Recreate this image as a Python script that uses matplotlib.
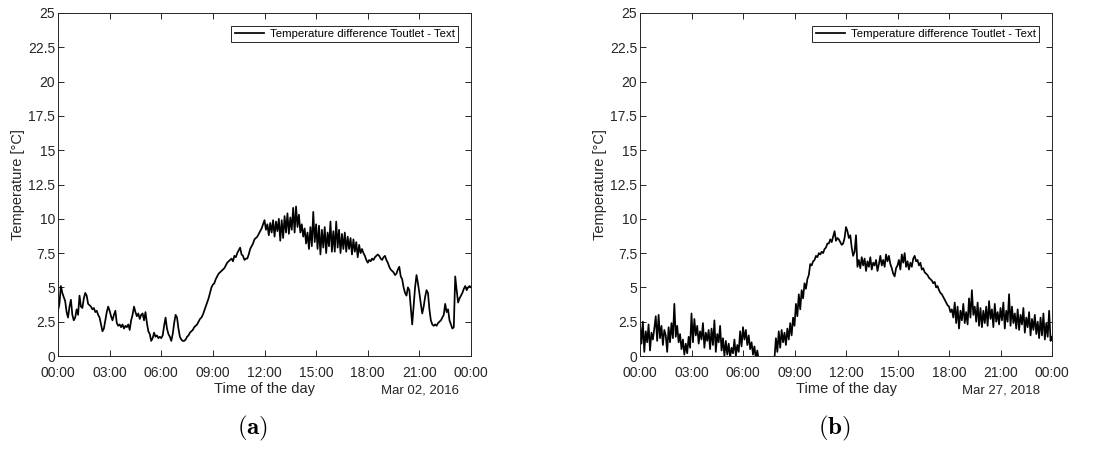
import numpy as np
import matplotlib
matplotlib.use("Agg")
import matplotlib.pyplot as plt

plt.rcParams['font.family'] = ['Liberation Sans', 'DejaVu Sans']
plt.rcParams['mathtext.fontset'] = 'cm'

# 5-minute readings, one row per hour, plus the value at 24:00
temp_a = [
    3.3, 3.8, 5.1, 4.6, 4.3, 4.0, 3.2, 2.8, 3.6, 4.1, 3.0, 2.6,
    2.8, 3.4, 3.0, 4.4, 3.6, 3.5, 4.2, 4.6, 4.4, 3.8, 3.7, 3.6,
    3.4, 3.5, 3.2, 3.3, 3.0, 2.8, 2.3, 1.8, 2.0, 2.6, 3.2, 3.6,
    3.3, 2.9, 2.6, 3.0, 3.3, 2.4, 2.2, 2.3, 2.1, 2.3, 2.0, 2.2,
    2.1, 2.3, 1.9, 2.6, 3.0, 3.6, 3.2, 2.9, 3.1, 2.7, 3.0, 3.1,
    2.6, 3.2, 2.4, 1.8, 1.6, 1.1, 1.3, 1.7, 1.4, 1.5, 1.3, 1.4,
    1.3, 1.5, 2.2, 2.8, 2.0, 1.6, 1.4, 1.1, 1.6, 2.4, 3.0, 2.8,
    2.0, 1.4, 1.2, 1.1, 1.1, 1.2, 1.4, 1.5, 1.7, 1.8, 1.9, 2.1,
    2.2, 2.3, 2.5, 2.7, 2.8, 3.0, 3.3, 3.6, 3.9, 4.2, 4.6, 5.0,
    5.2, 5.3, 5.6, 5.8, 6.0, 6.1, 6.2, 6.3, 6.4, 6.6, 6.8, 6.9,
    7.0, 7.1, 6.9, 7.3, 7.2, 7.5, 7.7, 7.9, 7.4, 7.3, 7.0, 7.1,
    7.1, 7.4, 7.8, 8.0, 8.2, 8.5, 8.6, 8.7, 8.9, 9.1, 9.3, 9.6,
    9.9, 9.2, 9.6, 8.8, 9.7, 9.0, 9.9, 8.7, 9.8, 9.1, 10.0, 8.4,
    9.9, 8.6, 10.2, 9.0, 10.4, 8.9, 10.1, 9.2, 10.8, 9.0, 10.9, 9.4,
    10.3, 9.0, 9.6, 8.7, 9.3, 8.2, 9.0, 7.8, 9.4, 8.0, 10.5, 8.3,
    9.6, 7.8, 9.5, 7.4, 9.2, 7.9, 9.4, 7.5, 9.0, 8.0, 9.8, 7.6,
    9.1, 7.6, 9.8, 7.9, 9.2, 7.5, 8.9, 7.8, 9.0, 7.6, 8.7, 7.8,
    8.6, 7.4, 8.5, 7.6, 8.3, 7.2, 8.1, 7.5, 7.8, 7.5, 7.3, 7.0,
    6.8, 7.0, 6.9, 7.1, 7.0, 7.2, 7.3, 7.4, 7.3, 7.1, 7.0, 7.2,
    7.3, 7.0, 6.8, 6.5, 6.3, 6.2, 6.1, 5.9, 6.0, 6.3, 6.5, 5.8,
    5.6, 5.0, 4.6, 4.4, 5.0, 4.8, 3.5, 2.3, 3.6, 5.0, 5.9, 5.3,
    4.6, 3.8, 3.1, 3.6, 4.3, 4.8, 4.6, 3.4, 2.6, 2.3, 2.2, 2.3,
    2.2, 2.4, 2.5, 2.6, 2.8, 3.0, 3.8, 3.2, 3.4, 2.6, 2.3, 2.0,
    2.1, 5.8, 4.8, 3.9, 4.2, 4.4, 4.6, 4.9, 5.1, 4.8, 5.0, 5.1,
    5.0,
]

temp_b = [
    2.4, 0.9, 2.5, 0.3, 1.8, 1.0, 2.3, 0.4, 1.7, 1.2, 2.0, 2.9,
    1.1, 3.0, 1.3, 2.2, 0.8, 1.9, 1.5, 0.3, 2.1, 1.0, 2.4, 1.3,
    3.8, 1.4, 2.2, 1.0, 1.6, 0.5, 1.2, 0.1, 0.9, 0.2, 1.4, 0.6,
    3.1, 1.0, 2.7, 1.5, 2.2, 0.9, 1.8, 1.2, 2.4, 0.6, 1.7, 1.1,
    1.9, 0.5, 2.0, 0.8, 2.6, 0.3, 1.6, 1.0, 2.2, 0.4, 1.3, 0.0,
    1.1, 0.1, 0.9, -0.1, 0.6, 0.2, 1.2, 0.0, 0.8, 0.3, 1.8, 0.7,
    2.1, 1.2, 1.9, 0.8, 1.5, 0.5, 1.0, 0.1, 0.7, -0.2, 0.4, -0.3,
    -0.5, -0.4, -0.6, -0.5, -0.7, -0.6, -0.5, -0.6, -0.4, -0.5, -0.2, 1.3,
    0.3, 1.8, 0.6, 1.9, 1.0, 1.7, 0.8, 2.0, 1.2, 2.4, 1.5, 2.8,
    2.2, 3.8, 2.9, 4.5, 3.4, 4.8, 4.2, 5.3, 4.9, 5.6, 5.9, 6.7,
    6.6, 6.9, 7.0, 7.3, 7.2, 7.5, 7.4, 7.6, 7.5, 7.8, 7.9, 8.2,
    8.2, 8.5, 8.3, 8.7, 9.1, 8.4, 8.6, 8.5, 8.3, 8.1, 8.2, 8.6,
    9.4, 9.1, 8.6, 8.8, 7.9, 7.3, 7.6, 8.8, 6.5, 7.0, 6.4, 7.2,
    6.6, 7.1, 6.2, 6.9, 6.5, 7.2, 6.3, 6.8, 6.6, 7.0, 6.2, 6.7,
    7.3, 6.6, 7.0, 6.5, 7.4, 6.9, 7.3, 6.7, 6.4, 6.0, 5.8, 6.4,
    6.6, 7.0, 6.3, 7.4, 6.8, 7.5, 6.5, 6.9, 6.3, 6.8, 6.5, 7.1,
    7.3, 6.9, 7.0, 6.6, 6.8, 6.3, 6.4, 6.1, 6.0, 5.9, 5.7, 5.6,
    5.5, 5.3, 5.4, 5.0, 5.1, 4.8, 4.6, 4.5, 4.3, 4.1, 3.9, 3.7,
    3.6, 3.2, 3.4, 2.8, 3.9, 2.4, 3.6, 2.0, 3.3, 2.6, 3.8, 2.4,
    3.2, 2.3, 4.2, 2.8, 4.8, 3.0, 3.6, 2.5, 3.9, 2.2, 3.5, 2.1,
    3.3, 2.4, 3.6, 2.2, 4.0, 2.7, 3.4, 2.1, 3.8, 2.5, 3.2, 2.3,
    3.5, 2.6, 3.9, 2.0, 3.3, 2.5, 4.5, 2.2, 3.6, 2.4, 3.1, 2.0,
    3.4, 1.9, 3.0, 2.3, 3.5, 1.7, 2.8, 2.1, 3.2, 1.5, 2.7, 1.9,
    3.0, 1.6, 2.5, 1.3, 2.8, 1.5, 3.1, 1.2, 2.4, 1.4, 3.3, 1.1,
    1.4,
]

hours = np.arange(len(temp_a)) * 5 / 60.0

xticks = [0, 3, 6, 9, 12, 15, 18, 21, 24]
xlabels = ['00:00', '03:00', '06:00', '09:00', '12:00', '15:00', '18:00', '21:00', '00:00']
yticks = [0, 2.5, 5, 7.5, 10, 12.5, 15, 17.5, 20, 22.5, 25]
dates = ['Mar 02, 2016', 'Mar 27, 2018']
panel_tags = ['(a)', '(b)']
legend_label = 'Temperature difference Toutlet - Text'

W, H = 1099, 450
fig = plt.figure(figsize=(W / 100, H / 100), dpi=100)
txt = '#262626'

boxes = [(58, 471), (640, 1052)]
tag_x = [253, 834]
for i, (temp, (x0, x1)) in enumerate(zip([temp_a, temp_b], boxes)):
    ax = fig.add_axes([x0 / W, 1 - 356 / H, (x1 - x0) / W, (356 - 13) / H])
    ax.plot(hours, temp, color='black', lw=1.25, label=legend_label)
    ax.set_xlim(0, 24)
    ax.set_ylim(0, 25)
    ax.set_xticks(xticks)
    ax.set_xticklabels(xlabels)
    ax.set_yticks(yticks)
    ax.set_yticklabels(['%g' % v for v in yticks])
    ax.tick_params(direction='in', top=True, right=True, length=4.5, width=0.7,
                   labelsize=10, colors=txt, labelcolor=txt)
    ax.tick_params(axis='x', pad=7)
    ax.tick_params(axis='y', pad=2)
    for s in ax.spines.values():
        s.set_color(txt)
        s.set_linewidth(0.7)
    ax.set_xlabel('Time of the day', fontsize=10.5, color=txt, labelpad=2)
    ax.set_ylabel('Temperature [°C]', fontsize=10.5, color=txt, labelpad=1)
    ax.yaxis.set_label_coords(-33 / (x1 - x0), 0.5)
    ax.text(0.97, -0.1, dates[i], transform=ax.transAxes, ha='right', va='center',
            fontsize=9.5, color=txt)
    leg = ax.legend(loc='upper right', fontsize=8.2, handlelength=2.6, handletextpad=0.5,
                    fancybox=False, framealpha=1, borderaxespad=1.1, borderpad=0.3)
    leg.get_frame().set_edgecolor(txt)
    leg.get_frame().set_linewidth(0.7)
    fig.text(tag_x[i] / W, 1 - 428 / H, r'$\mathbf{' + panel_tags[i] + '}$',
             ha='center', va='center', fontsize=18)

fig.savefig('out.png', dpi=100)
